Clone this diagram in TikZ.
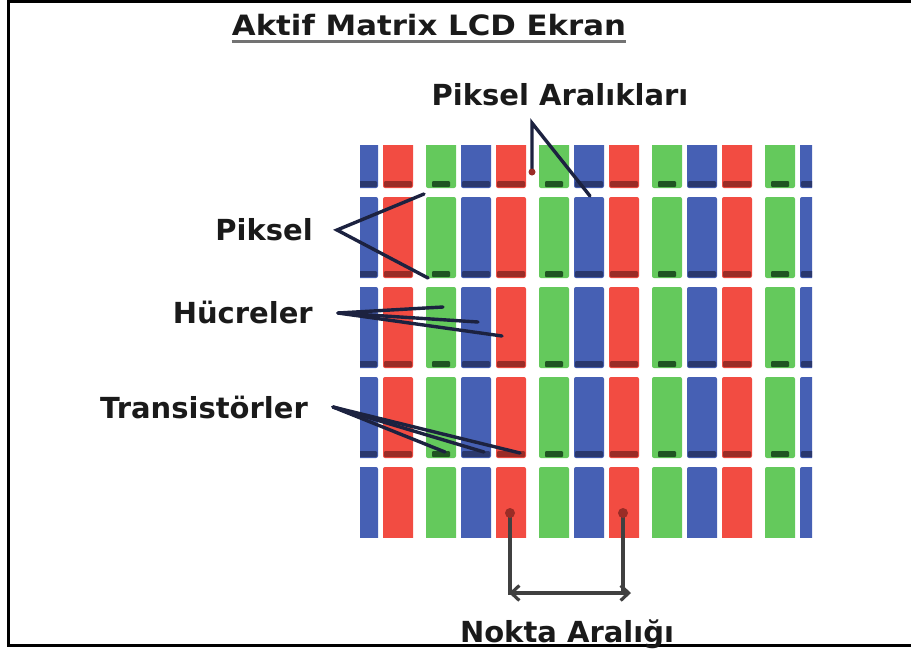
\documentclass[tikz,border=0pt]{standalone}
\usepackage{fontspec}
\setmainfont{DejaVu Sans}
\usepackage{tikz}
\usetikzlibrary{arrows.meta}
\definecolor{cellred}{HTML}{F24C42}
\definecolor{cellgreen}{HTML}{64C95C}
\definecolor{cellblue}{HTML}{4660B4}
\definecolor{tftred}{HTML}{9A2C26}
\definecolor{tftgreen}{HTML}{1F5422}
\definecolor{tftblue}{HTML}{2A386E}
\definecolor{leadline}{HTML}{1C2240}
\definecolor{textdark}{HTML}{1A1A1A}

% one sub-pixel: x, top, fill, transistor colour, transistor inset
\newcommand{\lcdcell}[5]{%
  \fill[#3, rounded corners=2pt] (#1,#2) rectangle ++(30,81);
  \fill[#4, rounded corners=1pt] (#1,#2) ++(#5,74) rectangle ++(30-2*#5,6);
}

\begin{document}
\begin{tikzpicture}[
  x=1pt, y=-1pt,
  lbl/.style={font=\fontsize{29}{32}\selectfont\bfseries, text=textdark, inner sep=0pt},
  lead/.style={line width=3.4pt, draw=leadline, line cap=round},
  bracket/.style={line width=3.2pt, draw=black!75},
]
\useasboundingbox (0,0) rectangle (911,649);
\draw[line width=3pt] (912,1.5) -- (8,1.5) -- (8,645) -- (912,645);

% title
\node[lbl, font=\fontsize{28}{30}\selectfont\bfseries, anchor=base] (title) at (429,35)
  {\scalebox{1.1}[1]{Aktif Matrix LCD Ekran}};
\draw[line width=3pt, black!55] ([yshift=-6pt]title.base west) -- ([yshift=-6pt]title.base east);

% sub-pixel grid
\begin{scope}
  \clip (360,145) rectangle (812,537);
  \foreach \rowy in {107,197,287,377,467}
    \foreach \tx in {313,426,539,652,765} {
      \lcdcell{\tx}{\rowy}{cellgreen}{tftgreen}{6}
      \lcdcell{\tx+35}{\rowy}{cellblue}{tftblue}{1}
      \lcdcell{\tx+70}{\rowy}{cellred}{tftred}{1}
    }
\end{scope}

% labels
\node[lbl, anchor=base] (aralik) at (560,105) {Piksel Aralıkları};
\node[lbl, anchor=base east] (piksel) at (313,240) {Piksel};
\node[lbl, anchor=base east] (hucre) at (313,323) {Hücreler};
\node[lbl, anchor=base east] (trans) at (308,418) {Transistörler};
\node[lbl, anchor=base] (nokta) at (567,642) {Nokta Aralığı};

% leader lines
\coordinate (paa) at (532,123);
\coordinate (pa1) at (532,172);
\coordinate (pa2) at (590,196);
\draw[lead] (pa1) -- (paa) -- (pa2);
\fill[tftred] (pa1) circle (3.5pt);

\coordinate (pxa) at (337,230);
\coordinate (px1) at (424,194);
\coordinate (px2) at (428,278);
\draw[lead] (px1) -- (pxa) -- (px2);

\coordinate (hca) at (338,313);
\coordinate (hc1) at (443,307);
\coordinate (hc2) at (478,322);
\coordinate (hc3) at (502,336);
\foreach \c in {hc1,hc2,hc3}
  \draw[lead] (hca) -- (\c);

\coordinate (tra) at (333,407);
\coordinate (tr1) at (445,452);
\coordinate (tr2) at (484,452);
\coordinate (tr3) at (520,453);
\foreach \c in {tr1,tr2,tr3}
  \draw[lead] (tra) -- (\c);

% dot pitch bracket
\coordinate (nd1) at (510,513);
\coordinate (nd2) at (623,513);
\coordinate (nc1) at (510,593);
\coordinate (nc2) at (623,593);
\draw[bracket] (nd1) -- ([yshift=-1.6pt]nc1);
\draw[bracket] (nd2) -- ([yshift=-1.6pt]nc2);
\draw[bracket, {Straight Barb[length=8pt,width=15pt]}-{Straight Barb[length=8pt,width=15pt]}]
  ([xshift=-1pt]nc1) -- ([xshift=8pt]nc2);
\fill[tftred] (nd1) circle (5pt);
\fill[tftred] (nd2) circle (5pt);
\end{tikzpicture}
\end{document}
